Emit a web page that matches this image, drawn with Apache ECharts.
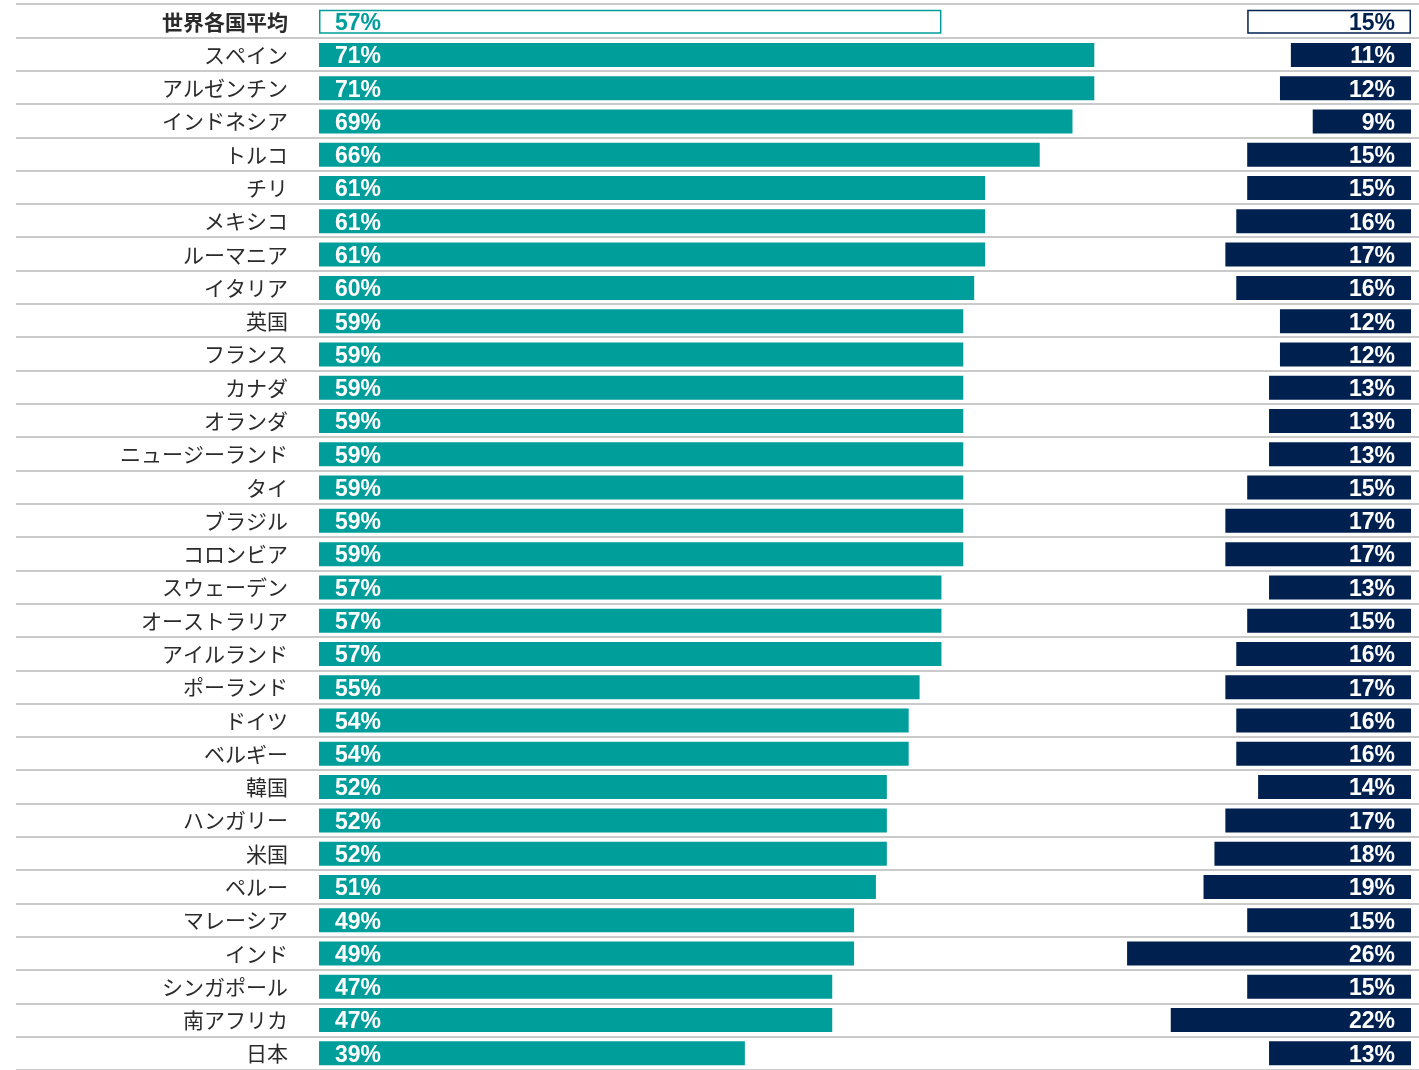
<!DOCTYPE html>
<html><head><meta charset="utf-8">
<script src="https://cdn.jsdelivr.net/npm/echarts@6/dist/echarts.min.js"></script>
<style>html,body{margin:0;padding:0;background:#fff}#c{width:1419px;height:1070px}</style>
</head><body><div id="c"></div>
<script>
const categories = ['世界各国平均','スペイン','アルゼンチン','インドネシア','トルコ','チリ','メキシコ','ルーマニア','イタリア','英国','フランス','カナダ','オランダ','ニュージーランド','タイ','ブラジル','コロンビア','スウェーデン','オーストラリア','アイルランド','ポーランド','ドイツ','ベルギー','韓国','ハンガリー','米国','ペルー','マレーシア','インド','シンガポール','南アフリカ','日本'];
const leftValues = [57,71,71,69,66,61,61,61,60,59,59,59,59,59,59,59,59,57,57,57,55,54,54,52,52,52,51,49,49,47,47,39];
const rightValues = [15,11,12,9,15,15,16,17,16,12,12,13,13,13,15,17,17,13,15,16,17,16,16,14,17,18,19,15,26,15,22,13];

const TEAL = '#009E9A', NAVY = '#00214F';
const PX = 10.92; // px per percent
const rowH = 33.42, N = categories.length;
const topY = 4, H = rowH * N;
const LMAX = 75, RMAX = 30;
const barLeft = 319, barRight = 1411;

const valFont = {fontFamily:'Liberation Sans, Arial, sans-serif', fontWeight:'bold', fontSize:23, offset:[0,2]};

function mk(vals, col){
  return vals.map((v,i)=> i===0 ? {
    value:v,
    itemStyle:{color:'#fff', borderColor:col, borderWidth:1.5},
    label:{color:col}
  } : {value:v});
}

const chart = echarts.init(document.getElementById('c'));
chart.setOption({
  animation:false,
  grid:[
    {left:16, right:0, top:topY, height:H},
    {left:barLeft, width:LMAX*PX, top:topY+1, height:H},
    {left:barRight-RMAX*PX, width:RMAX*PX, top:topY+1, height:H}
  ],
  xAxis:[
    {gridIndex:0, type:'value', show:false, min:0, max:1},
    {gridIndex:1, type:'value', show:false, min:0, max:LMAX},
    {gridIndex:2, type:'value', show:false, min:0, max:RMAX, inverse:true}
  ],
  yAxis:[
    {gridIndex:0, type:'category', data:categories, inverse:true,
     axisLine:{show:false}, axisTick:{show:false}, axisLabel:{show:false},
     splitLine:{show:true, lineStyle:{color:'#cacaca', width:2}}},
    {gridIndex:1, type:'category', data:categories, inverse:true,
     axisLine:{show:false}, axisTick:{show:false}, splitLine:{show:false},
     axisLabel:{margin:31, fontSize:21, color:'#2b2b2b',
       fontFamily:'"Noto Sans CJK JP", sans-serif',
       formatter:(v,i)=> i===0 ? '{b|'+v+'}' : v,
       rich:{b:{fontWeight:'bold', fontSize:21, color:'#2b2b2b', fontFamily:'"Noto Sans CJK JP", sans-serif'}}}},
    {gridIndex:2, type:'category', data:categories, inverse:true, show:false}
  ],
  series:[
    {type:'bar', xAxisIndex:1, yAxisIndex:1, barWidth:24, data:mk(leftValues,TEAL),
     itemStyle:{color:TEAL},
     label:{show:true, position:'insideLeft', distance:16, color:'#fff', formatter:'{c}%', ...valFont}},
    {type:'bar', xAxisIndex:2, yAxisIndex:2, barWidth:24, data:mk(rightValues,NAVY),
     itemStyle:{color:NAVY},
     label:{show:true, position:'insideRight', distance:16, color:'#fff', formatter:'{c}%', ...valFont}}
  ]
});
</script></body></html>
